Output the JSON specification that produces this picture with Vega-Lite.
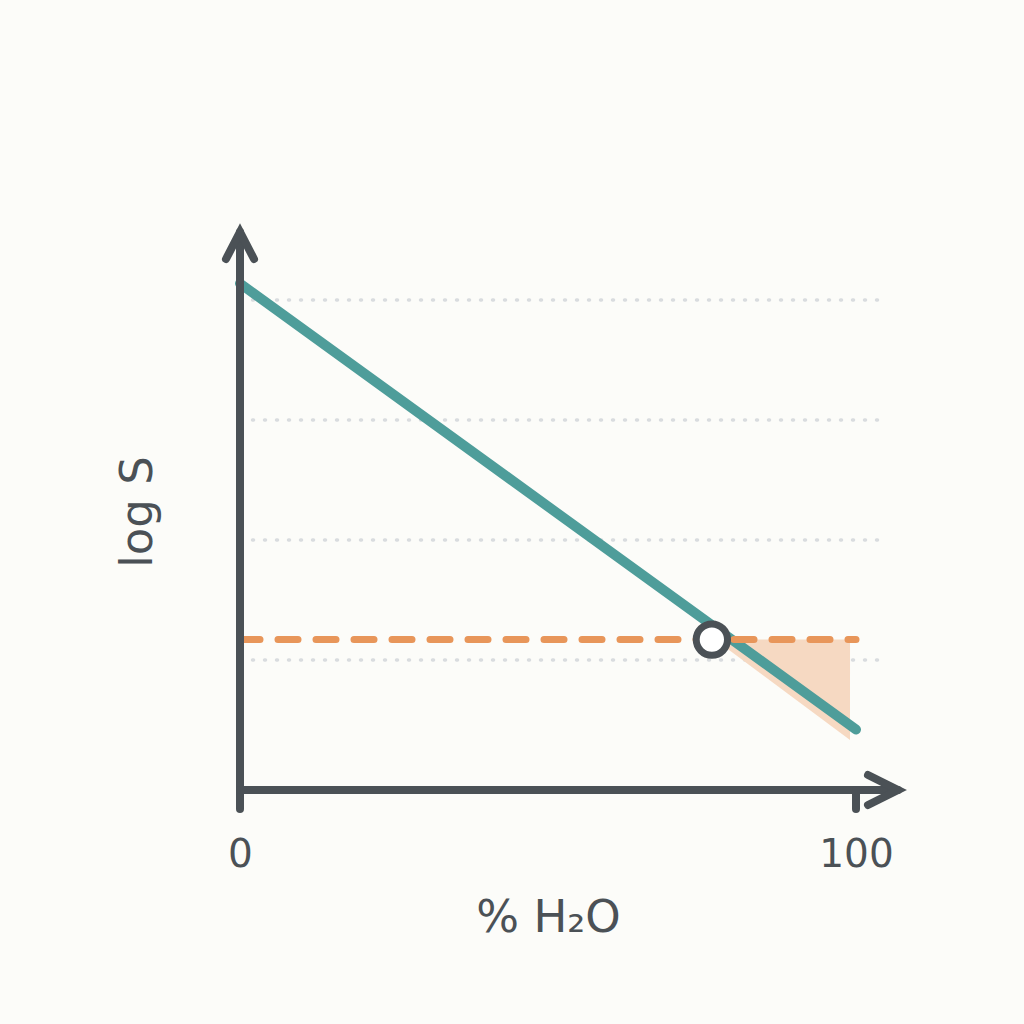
{
  "$schema": "https://vega.github.io/schema/vega-lite/v6.json",
  "width": 616,
  "height": 557,
  "autosize": {"type": "none"},
  "padding": {"left": 240, "top": 233, "right": 168, "bottom": 234},
  "background": "#fcfcf9",
  "config": {"view": {"stroke": null}, "font": "DejaVu Sans"},
  "datasets": {
    "grid": [{"g": 1}, {"g": 2}, {"g": 3}, {"g": 4}],
    "shade": [
      {"pct": 77.1, "low": 1.17, "high": 1.17},
      {"pct": 99.03, "low": 0.3333, "high": 1.17}
    ],
    "curve": [
      {"pct": 0, "logS": 4.1375},
      {"pct": 100, "logS": 0.4208}
    ],
    "threshold": [
      {"pct": 0, "level": 1.17},
      {"pct": 100, "level": 1.17}
    ],
    "axes": [
      {"seg": "yaxis", "ord": 0, "ax": 0, "ay": -0.24167},
      {"seg": "yaxis", "ord": 1, "ax": 0, "ay": 4.56667},
      {"seg": "yarrow", "ord": 0, "ax": -2.2727, "ay": 4.34167},
      {"seg": "yarrow", "ord": 1, "ax": 0, "ay": 4.56667},
      {"seg": "yarrow", "ord": 2, "ax": 2.2727, "ay": 4.34167},
      {"seg": "xaxis", "ord": 0, "ax": 0, "ay": -0.08333},
      {"seg": "xaxis", "ord": 1, "ax": 106.818, "ay": -0.08333},
      {"seg": "xarrow", "ord": 0, "ax": 101.948, "ay": 0.04167},
      {"seg": "xarrow", "ord": 1, "ax": 106.818, "ay": -0.08333},
      {"seg": "xarrow", "ord": 2, "ax": 101.948, "ay": -0.20833},
      {"seg": "tick100", "ord": 0, "ax": 100, "ay": -0.08333},
      {"seg": "tick100", "ord": 1, "ax": 100, "ay": -0.24167}
    ],
    "cross": [{"pct": 76.6, "logS": 1.17}]
  },
  "layer": [
    {
      "data": {"name": "grid"},
      "mark": {"type": "rule", "color": "#d9dcdf", "strokeWidth": 3.5, "strokeDash": [1, 11], "strokeCap": "round"},
      "encoding": {
        "x": {
          "datum": 2.03, "type": "quantitative",
          "scale": {"domain": [0, 100], "nice": false, "zero": false},
          "axis": {
            "values": [0, 100], "domain": false, "ticks": false, "grid": false,
            "labelFontSize": 39, "labelColor": "#4b5156", "labelBaseline": "alphabetic",
            "labelPadding": 76, "labelFlush": false, "labelOverlap": false, "labelAlign": "center",
            "title": "% H₂O", "titleFontSize": 45, "titleFontWeight": "normal", "titleColor": "#4b5156",
            "titleBaseline": "alphabetic", "titleY": 141, "titleX": 308
          }
        },
        "x2": {"datum": 103.9},
        "y": {
          "field": "g", "type": "quantitative",
          "scale": {"domain": [-0.08333, 4.55833], "nice": false, "zero": false},
          "axis": {
            "domain": false, "ticks": false, "labels": false, "grid": false,
            "title": "log S", "titleFontSize": 45, "titleFontWeight": "normal", "titleColor": "#4b5156",
            "titleBaseline": "alphabetic", "titleAngle": -90, "titleX": -89
          }
        }
      }
    },
    {
      "data": {"name": "shade"},
      "mark": {"type": "area", "color": "#f6d9c2", "opacity": 1},
      "encoding": {
        "x": {"field": "pct", "type": "quantitative"},
        "y": {"field": "low", "type": "quantitative"},
        "y2": {"field": "high"}
      }
    },
    {
      "data": {"name": "curve"},
      "mark": {"type": "line", "color": "#4e9d9a", "strokeWidth": 10, "strokeCap": "round"},
      "encoding": {
        "x": {"field": "pct", "type": "quantitative"},
        "y": {"field": "logS", "type": "quantitative"}
      }
    },
    {
      "data": {"name": "threshold"},
      "mark": {"type": "line", "color": "#e8965a", "strokeWidth": 7, "strokeCap": "round", "strokeDash": [20, 18]},
      "encoding": {
        "x": {"field": "pct", "type": "quantitative"},
        "y": {"field": "level", "type": "quantitative"}
      }
    },
    {
      "data": {"name": "axes"},
      "mark": {"type": "line", "color": "#4b5156", "strokeWidth": 8, "strokeCap": "round", "strokeJoin": "miter"},
      "encoding": {
        "x": {"field": "ax", "type": "quantitative"},
        "y": {"field": "ay", "type": "quantitative"},
        "detail": {"field": "seg"},
        "order": {"field": "ord", "type": "quantitative"}
      }
    },
    {
      "data": {"name": "cross"},
      "mark": {"type": "point", "shape": "circle", "filled": false, "fill": "#ffffff", "fillOpacity": 1, "stroke": "#4b5156", "strokeWidth": 7, "size": 980, "opacity": 1},
      "encoding": {
        "x": {"field": "pct", "type": "quantitative"},
        "y": {"field": "logS", "type": "quantitative"}
      }
    }
  ]
}
